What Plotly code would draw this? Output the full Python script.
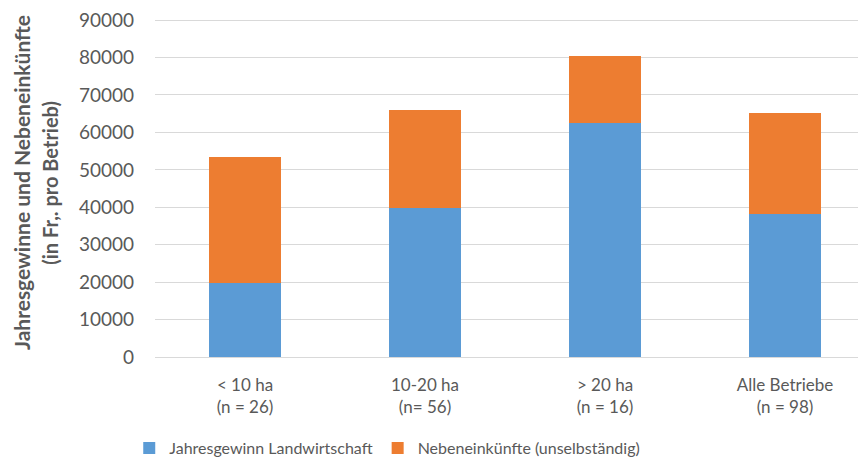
import plotly.graph_objects as go

categories = ["< 10 ha<br>(n = 26)", "10-20 ha<br>(n= 56)", "> 20 ha<br>(n = 16)", "Alle Betriebe<br>(n = 98)"]
jahresgewinn = [19800, 39800, 62400, 38300]
nebeneinkuenfte = [33500, 26300, 18000, 26800]
series_names = ["Jahresgewinn Landwirtschaft", "Nebeneinkünfte (unselbständig)"]
y_ticks = [0, 10000, 20000, 30000, 40000, 50000, 60000, 70000, 80000, 90000]

FONT = "Lato"
GREY = "#595959"

fig = go.Figure()
fig.add_trace(go.Bar(x=categories, y=jahresgewinn, name=series_names[0],
                     marker=dict(color="#5B9BD5", line=dict(width=0)), width=0.4))
fig.add_trace(go.Bar(x=categories, y=nebeneinkuenfte, name=series_names[1],
                     marker=dict(color="#ED7D31", line=dict(width=0)), width=0.4))

fig.update_layout(
    barmode="stack",
    width=866, height=461,
    paper_bgcolor="white", plot_bgcolor="white",
    margin=dict(l=147, r=8, t=11, b=112, autoexpand=False),
    font=dict(family=FONT, color=GREY, size=17),
    xaxis=dict(range=[-0.5, 3.45], showgrid=False, showline=False, ticks="",
               ticklabelstandoff=16,
               tickfont=dict(size=17, color=GREY)),
    yaxis=dict(range=[0, 90300], tickvals=y_ticks, ticktext=[str(v) for v in y_ticks],
               showgrid=True, gridcolor="#D9D9D9", gridwidth=1.3,
               zeroline=True, zerolinecolor="#D9D9D9", zerolinewidth=1.3,
               showline=False, ticks="", ticklen=0, ticklabelstandoff=20,
               ticklabeloverflow="allow",
               tickfont=dict(size=19, color=GREY)),
    legend=dict(orientation="h", xref="container", x=0.14, xanchor="left",
                yref="container", y=0.0456, yanchor="middle",
                font=dict(size=16, color=GREY), itemwidth=30, traceorder="normal"),
    showlegend=True,
    bargap=0.6,
)

fig.add_annotation(text="<b>Jahresgewinne und Nebeneinkünfte</b>", xref="paper", yref="paper",
                   x=-0.187, xanchor="center", y=0.515, yanchor="middle",
                   textangle=-90, showarrow=False, font=dict(size=21, color=GREY))
fig.add_annotation(text="<b>(in Fr,. pro Betrieb)</b>", xref="paper", yref="paper",
                   x=-0.148, xanchor="center", y=0.515, yanchor="middle",
                   textangle=-90, showarrow=False, font=dict(size=20, color=GREY))

fig.write_html("out.html")
